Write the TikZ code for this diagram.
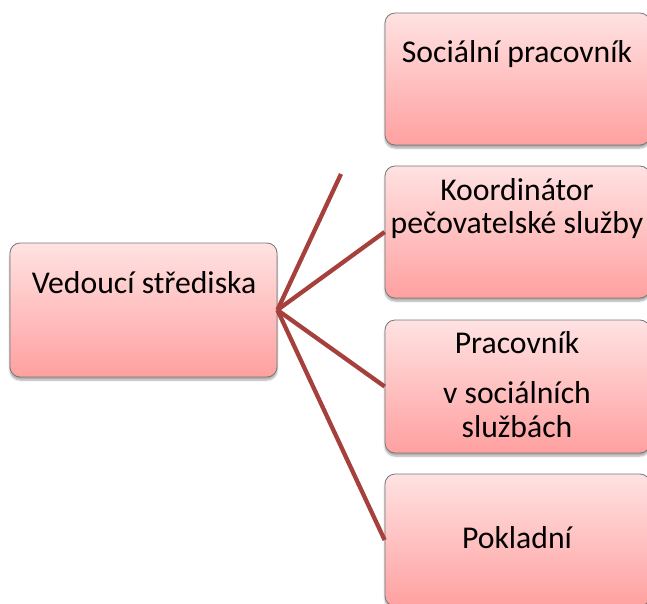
\documentclass[tikz,border=0pt]{standalone}
\usepackage{fontspec}
\setmainfont{Carlito}
\usetikzlibrary{shadows.blur}
\definecolor{linkred}{RGB}{165,64,61}
\definecolor{boxtop}{RGB}{255,226,226}
\definecolor{boxbot}{RGB}{255,160,160}
\definecolor{boxedge}{RGB}{120,120,120}
\begin{document}
\begin{tikzpicture}[x=1pt,y=-1pt,
  box/.style={draw=boxedge, line width=0.8pt, rounded corners=10pt,
    top color=boxtop, bottom color=boxbot, inner sep=0pt,
    blur shadow={shadow xshift=0pt,shadow yshift=-3pt,shadow blur steps=6,shadow opacity=35}},
  rbox/.style={box, minimum width=265pt, minimum height=132pt},
  lbl/.style={anchor=base, font=\fontsize{31.7}{34}\selectfont, inner sep=0pt},
  link/.style={draw=linkred, line width=4.3pt}]
\useasboundingbox (0,0) rectangle (647,604);
\clip (0,0) rectangle (647,604);
% boxes
\node[box, minimum width=267pt, minimum height=134pt] (lead) at (143.5,310) {};
\node[rbox] (b1) at (517.5,79) {};
\node[rbox] (b2) at (517.5,232) {};
\node[rbox, minimum height=133pt] (b3) at (517.5,386.5) {};
\node[rbox] (b4) at (517.5,540) {};
% connectors
\coordinate (stub) at (341,174);
\draw[link] (lead.east) -- (stub);
\draw[link] (lead.east) -- (b2.west);
\draw[link] (lead.east) -- (b3.west);
\draw[link] (lead.east) -- (b4.west);
% texts
\node[lbl] (t0) at (144,293) {Vedoucí střediska};
\node[lbl] (t1) at (517,63) {Sociální pracovník};
\node[lbl] (t2a) at (517,200) {Koordinátor};
\node[lbl] (t2b) at (517,233) {pečovatelské služby};
\node[lbl] (t3a) at (517,353) {Pracovník};
\node[lbl] (t3b) at (517,403) {v sociálních};
\node[lbl] (t3c) at (517,437) {službách};
\node[lbl] (t4) at (517,548) {Pokladní};
\end{tikzpicture}
\end{document}
